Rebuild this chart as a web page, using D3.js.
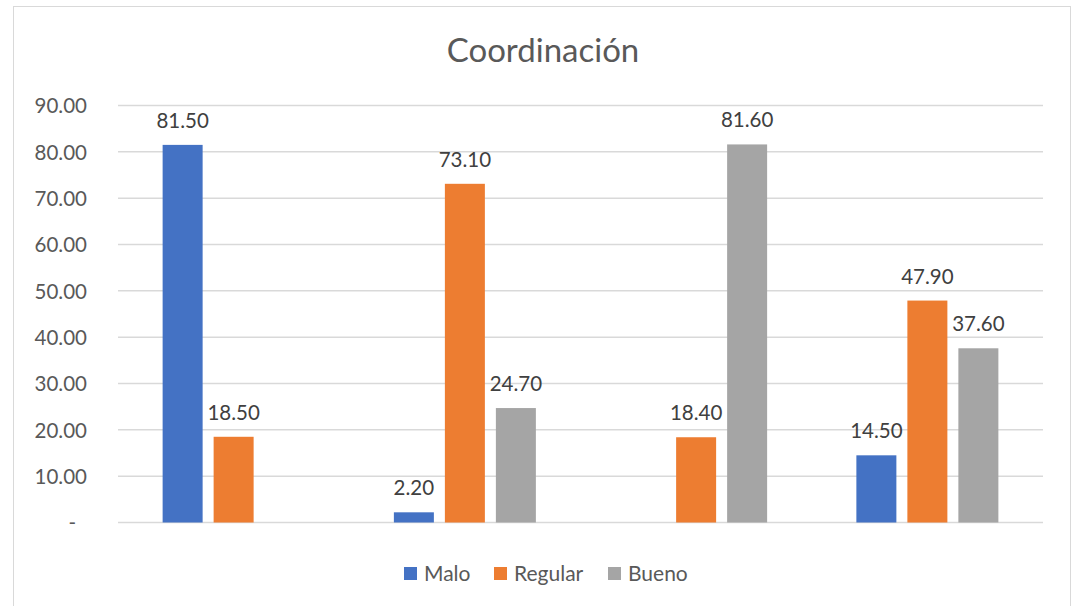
<!DOCTYPE html>
<html><head><meta charset="utf-8">
<script src="https://cdn.jsdelivr.net/npm/d3@7"></script>
<style>body{margin:0;background:#fff}svg{display:block}text{font-family:Lato,"Open Sans",sans-serif}</style>
</head><body><svg id="c" width="1072" height="606"></svg>
<script>
const title = "Coordinación";
const categories = ["1", "2", "3", "4"];
const seriesNames = ["Malo", "Regular", "Bueno"];
const malo = [81.5, 2.2, null, 14.5];
const regular = [18.5, 73.1, 18.4, 47.9];
const bueno = [null, 24.7, 81.6, 37.6];
const colors = ["#4472C4", "#ED7D31", "#A5A5A5"];
const yTicks = [0, 10, 20, 30, 40, 50, 60, 70, 80, 90];

const values = [malo, regular, bueno];
const svg = d3.select("#c");
svg.append("rect").attr("x", 13.5).attr("y", 6.5).attr("width", 1057).attr("height", 610)
  .attr("fill", "#fff").attr("stroke", "#d9d9d9").attr("stroke-width", 1);

const L = 118, R = 1043, T = 105.5, B = 522.5;
const x0 = d3.scaleBand().domain(categories).range([L, R]).padding(0);
const x1 = d3.scaleBand().domain(seriesNames).range([0, x0.bandwidth()])
  .paddingInner(11 / 51).paddingOuter(0.875);
const y = d3.scaleLinear().domain([0, 90]).range([B, T]);

const grid = svg.append("g");
grid.selectAll("line").data(yTicks).join("line")
  .attr("x1", L).attr("x2", R).attr("y1", d => y(d)).attr("y2", d => y(d))
  .attr("stroke", "#d9d9d9").attr("stroke-width", 1.5);

const yAxis = d3.axisLeft(y).tickValues(yTicks).tickSize(0)
  .tickFormat(d => d === 0 ? "-" : d3.format(".2f")(d));
const ag = svg.append("g").attr("transform", `translate(${L - 28},0)`).call(yAxis);
ag.select(".domain").remove();
ag.selectAll("text").attr("fill", "#595959").attr("font-size", 20.5).attr("dy", "0.35em")
  .attr("dx", d => d === 0 ? -11 : 0);

seriesNames.forEach((s, si) => {
  const pts = categories.map((c, ci) => ({c, v: values[si][ci]})).filter(p => p.v != null);
  svg.append("g").selectAll("rect").data(pts).join("rect")
    .attr("x", p => x0(p.c) + x1(s)).attr("width", x1.bandwidth())
    .attr("y", p => y(p.v)).attr("height", p => y(0) - y(p.v)).attr("fill", colors[si]);
  svg.append("g").selectAll("text").data(pts).join("text")
    .attr("x", p => x0(p.c) + x1(s) + x1.bandwidth() / 2).attr("y", p => y(p.v) - 17)
    .attr("text-anchor", "middle").attr("fill", "#404040").attr("font-size", 20.5)
    .text(p => d3.format(".2f")(p.v));
});

svg.append("text").attr("x", 543).attr("y", 62).attr("text-anchor", "middle")
  .attr("font-size", 33).attr("fill", "#595959").text(title);

const legX = [404, 494, 608];
const lg = svg.append("g");
seriesNames.forEach((s, i) => {
  lg.append("rect").attr("x", legX[i]).attr("y", 567).attr("width", 13).attr("height", 13).attr("fill", colors[i]);
  lg.append("text").attr("x", legX[i] + 20).attr("y", 574).attr("dy", "0.35em")
    .attr("font-size", 21).attr("fill", "#595959").text(s);
});
</script></body></html>
